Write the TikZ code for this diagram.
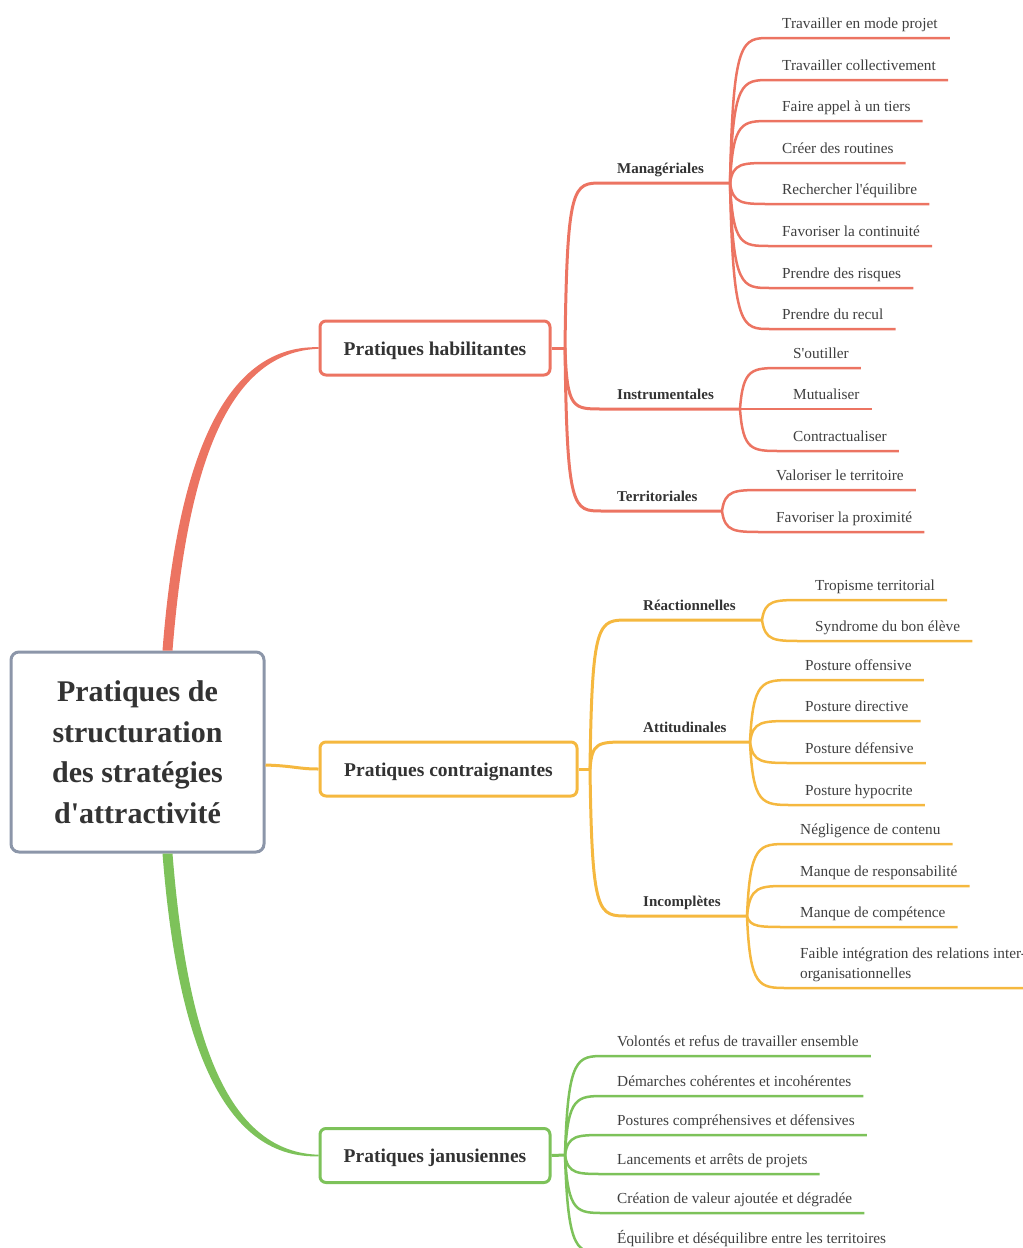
\documentclass[tikz,border=0pt]{standalone}
\usepackage{fontspec}
\setmainfont{Liberation Serif}
\usetikzlibrary{calc}
\definecolor{HabRed}{HTML}{EC7462}
\definecolor{ConOrange}{HTML}{F5B83F}
\definecolor{JanGreen}{HTML}{7DC25A}
\definecolor{RootGray}{HTML}{8C96A9}
\definecolor{TextGray}{HTML}{333333}
\definecolor{LeafGray}{HTML}{3F3F3F}

\begin{document}
\begin{tikzpicture}[
  x=1pt, y=-1pt,
  rootbox/.style={draw=RootGray, fill=white, rounded corners=8pt, line width=3pt,
                  minimum width=253pt, minimum height=200pt, align=center,
                  font=\bfseries\fontsize{30}{40.5}\selectfont, text=TextGray},
  mainbox/.style={draw, fill=white, rounded corners=6pt, line width=3pt, minimum height=54pt,
                  text height=19pt, text depth=4.3pt,
                  font=\bfseries\fontsize{19.5}{22}\selectfont, text=TextGray},
  sub/.style={anchor=south west, inner xsep=15pt, inner ysep=6pt, text height=10pt, text depth=3pt,
              font=\bfseries\fontsize{15}{17}\selectfont, text=TextGray},
  leafbase/.style={anchor=south west, inner xsep=12pt, inner ysep=6pt,
                   font=\fontsize{15.3}{20}\selectfont, text=LeafGray},
  leaf/.style={leafbase, text height=10pt, text depth=3pt},
  branch/.style={line width=3pt},
  twig/.style={line width=2.5pt}
]
\useasboundingbox (0,0) rectangle (1023,1248);

% ── CENTRE ────────────────────────────────────────────────────────────────────
\node[rootbox] (root) at (137.5,752) {Pratiques de\\structuration\\des stratégies\\d\textquotesingle attractivité};

\node[mainbox, draw=HabRed,    minimum width=230pt] (hab) at (435,348)    {Pratiques habilitantes};
\node[mainbox, draw=ConOrange, minimum width=257pt] (con) at (448.5,769)  {Pratiques contraignantes};
\node[mainbox, draw=JanGreen,  minimum width=230pt] (jan) at (435,1155.5) {Pratiques janusiennes};

\fill[HabRed] ([xshift=25pt]root.north) .. controls (178,450) and (228,345) .. ([yshift=0.8pt]hab.west)
  -- ([yshift=-0.8pt]hab.west) .. controls (232,352) and (188,455) .. ([xshift=35pt]root.north) -- cycle;
\draw[ConOrange, line width=3pt] ([yshift=-13pt]root.east) .. controls (295,766) and (298,769) .. (con.west);
\fill[JanGreen] ([xshift=25pt]root.south) .. controls (178,1054) and (228,1159) .. ([yshift=-0.8pt]jan.west)
  -- ([yshift=0.8pt]jan.west) .. controls (232,1152) and (188,1050) .. ([xshift=35pt]root.south) -- cycle;

% ── HABILITANTES ──────────────────────────────────────────────────────────────
\coordinate (habh) at (565,348);
\node[sub] (man) at (602,183) {Managériales};
\node[sub] (ins) at (602,409) {Instrumentales};
\node[sub] (ter) at (602,511) {Territoriales};
\coordinate (manh) at (730,183);
\coordinate (insh) at (740,409);
\coordinate (terh) at (722,511);

\node[leaf] (man1) at (770,38)  {Travailler en mode projet};
\node[leaf] (man2) at (770,80)  {Travailler collectivement};
\node[leaf] (man3) at (770,121) {Faire appel à un tiers};
\node[leaf] (man4) at (770,163) {Créer des routines};
\node[leaf] (man5) at (770,204) {Rechercher l\textquotesingle équilibre};
\node[leaf] (man6) at (770,246) {Favoriser la continuité};
\node[leaf] (man7) at (770,288) {Prendre des risques};
\node[leaf] (man8) at (770,329) {Prendre du recul};

\node[leaf] (ins1) at (781,368) {S\textquotesingle outiller};
\node[leaf] (ins2) at (781,409) {Mutualiser};
\node[leaf] (ins3) at (781,451) {Contractualiser};

\node[leaf] (ter1) at (764,490) {Valoriser le territoire};
\node[leaf] (ter2) at (764,532) {Favoriser la proximité};

\draw[branch, HabRed] (hab.east) -- (habh);
\foreach \grp in {man,ins,ter}
  \draw[branch, HabRed] (habh) .. controls ($(habh |- \grp.south west)+(2,0)$) and ($(habh |- \grp.south west)+(8,0)$)
    .. (\grp.south west) -- (\grp h);
\foreach \i in {1,...,8}
  \draw[twig, HabRed] (manh) .. controls ($(manh |- man\i.south west)+(3,0)$) and ($(manh |- man\i.south west)+(12,0)$)
    .. (man\i.south west) -- (man\i.south east);
\foreach \i in {1,2,3}
  \draw[twig, HabRed] (insh) .. controls ($(insh |- ins\i.south west)+(3,0)$) and ($(insh |- ins\i.south west)+(12,0)$)
    .. (ins\i.south west) -- (ins\i.south east);
\foreach \i in {1,2}
  \draw[twig, HabRed] (terh) .. controls ($(terh |- ter\i.south west)+(3,0)$) and ($(terh |- ter\i.south west)+(12,0)$)
    .. (ter\i.south west) -- (ter\i.south east);

% ── CONTRAIGNANTES ────────────────────────────────────────────────────────────
\coordinate (conh) at (590,769);
\node[sub] (rea) at (628,620) {Réactionnelles};
\node[sub] (att) at (628,742) {Attitudinales};
\node[sub] (inc) at (628,916) {Incomplètes};
\coordinate (reah) at (762,620);
\coordinate (atth) at (750,742);
\coordinate (inch) at (747,916);

\node[leaf] (rea1) at (803,600) {Tropisme territorial};
\node[leaf] (rea2) at (803,641) {Syndrome du bon élève};

\node[leaf] (att1) at (793,680) {Posture offensive};
\node[leaf] (att2) at (793,721) {Posture directive};
\node[leaf] (att3) at (793,763) {Posture défensive};
\node[leaf] (att4) at (793,805) {Posture hypocrite};

\node[leaf] (inc1) at (788,844) {Négligence de contenu};
\node[leaf] (inc2) at (788,886) {Manque de responsabilité};
\node[leaf] (inc3) at (788,927) {Manque de compétence};
\node[leafbase, align=left] (inc4) at (788,988) {Faible intégration des relations inter-\\organisationnelles};

\draw[branch, ConOrange] (con.east) -- (conh);
\foreach \grp in {rea,att,inc}
  \draw[branch, ConOrange] (conh) .. controls ($(conh |- \grp.south west)+(2,0)$) and ($(conh |- \grp.south west)+(8,0)$)
    .. (\grp.south west) -- (\grp h);
\foreach \i in {1,2}
  \draw[twig, ConOrange] (reah) .. controls ($(reah |- rea\i.south west)+(3,0)$) and ($(reah |- rea\i.south west)+(12,0)$)
    .. (rea\i.south west) -- (rea\i.south east);
\foreach \i in {1,...,4}
  \draw[twig, ConOrange] (atth) .. controls ($(atth |- att\i.south west)+(3,0)$) and ($(atth |- att\i.south west)+(12,0)$)
    .. (att\i.south west) -- (att\i.south east);
\foreach \i in {1,...,4}
  \draw[twig, ConOrange] (inch) .. controls ($(inch |- inc\i.south west)+(3,0)$) and ($(inch |- inc\i.south west)+(12,0)$)
    .. (inc\i.south west) -- (inc\i.south east);

% ── JANUSIENNES ───────────────────────────────────────────────────────────────
\coordinate (janh) at (565,1155);

\node[leaf] (jan1) at (605,1056) {Volontés et refus de travailler ensemble};
\node[leaf] (jan2) at (605,1096) {Démarches cohérentes et incohérentes};
\node[leaf] (jan3) at (605,1135) {Postures compréhensives et défensives};
\node[leaf] (jan4) at (605,1174) {Lancements et arrêts de projets};
\node[leaf] (jan5) at (605,1213) {Création de valeur ajoutée et dégradée};
\node[leaf] (jan6) at (605,1253) {Équilibre et déséquilibre entre les territoires};

\draw[branch, JanGreen] (jan.east) -- (janh);
\foreach \i in {1,...,6}
  \draw[twig, JanGreen] (janh) .. controls ($(janh |- jan\i.south west)+(3,0)$) and ($(janh |- jan\i.south west)+(12,0)$)
    .. (jan\i.south west) -- (jan\i.south east);

\end{tikzpicture}
\end{document}
